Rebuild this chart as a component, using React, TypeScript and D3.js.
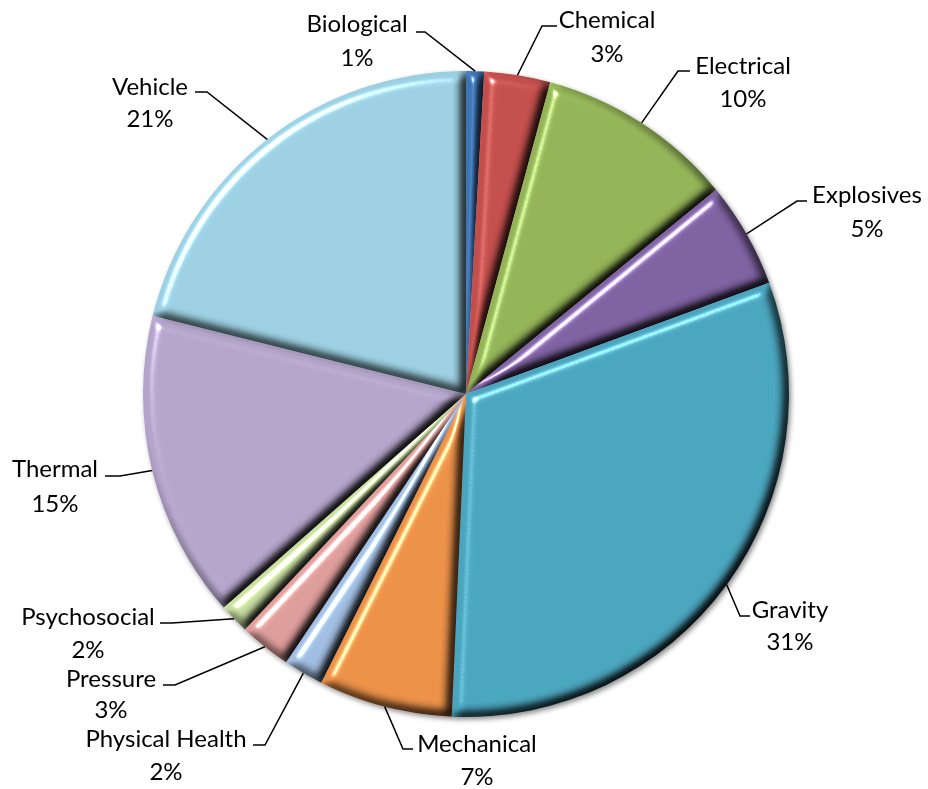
import React from "react";
import * as d3 from "d3";

const categories = [
  "Biological", "Chemical", "Electrical", "Explosives", "Gravity", "Mechanical",
  "Physical Health", "Pressure", "Psychosocial", "Thermal", "Vehicle",
];
const values = [0.9, 3.3, 9.9, 5.3, 31.3, 6.7, 2.0, 2.6, 1.5, 15.4, 21.1];
const percentLabels = ["1%", "3%", "10%", "5%", "31%", "7%", "2%", "3%", "2%", "15%", "21%"];
const colors = [
  "#3F73B2", "#C24F4C", "#93B357", "#7E61A0", "#4AA4BD", "#EA9048",
  "#A0BCE0", "#DC9C9A", "#C6DBA0", "#B4A4CA", "#9CCFE1",
];

// label layout: text centre x, first-line y, second-line y, leader start, knee
const labelLayout = [
  { cx: 357, y1: 22, y2: 56, sx: 416, sy: 32, kx: 425 },
  { cx: 607, y1: 18, y2: 52, sx: 557, sy: 26, kx: 542 },
  { cx: 743, y1: 64, y2: 97, sx: 690, sy: 71, kx: 678 },
  { cx: 867, y1: 193, y2: 227, sx: 807, sy: 201, kx: 797 },
  { cx: 790, y1: 608, y2: 640, sx: 750, sy: 616, kx: 740 },
  { cx: 477, y1: 742, y2: 775, sx: 413, sy: 749, kx: 403 },
  { cx: 166, y1: 737, y2: 770, sx: 253, sy: 745, kx: 265 },
  { cx: 111, y1: 677, y2: 708, sx: 163, sy: 685, kx: 175 },
  { cx: 88, y1: 615, y2: 648, sx: 160, sy: 623, kx: 172 },
  { cx: 55, y1: 467, y2: 502, sx: 105, sy: 476, kx: 120 },
  { cx: 150, y1: 85, y2: 117, sx: 195, sy: 92, kx: 207 },
];

const W = 928;
const H = 789;
const CX = 466;
const CY = 394;
const R = 323;

export default function App() {
  const pie = d3.pie<number>().sort(null).value((d) => d)(values);
  const arc = d3.arc<d3.PieArcDatum<number>>().innerRadius(0).outerRadius(R);

  return (
    <div style={{ position: "absolute", left: 0, top: 0 }}>
      <svg width={W} height={H} viewBox={`0 0 ${W} ${H}`} style={{ display: "block", background: "#fff" }}>
        <defs>
          <filter id="bevel" filterUnits="userSpaceOnUse" x={-500} y={-450} width={1000} height={900}
            colorInterpolationFilters="sRGB">
            <feGaussianBlur in="SourceAlpha" stdDeviation="5.5" result="b" />
            <feDiffuseLighting in="b" surfaceScale="8" diffuseConstant="1.221" lightingColor="#ffffff" result="d">
              <feDistantLight azimuth="225" elevation="55" />
            </feDiffuseLighting>
            <feComposite in="SourceGraphic" in2="d" operator="arithmetic" k1="1" k2="0" k3="0" k4="0" result="shaded" />
            <feSpecularLighting in="b" surfaceScale="8" specularConstant="0.75" specularExponent="45"
              lightingColor="#ffffff" result="s">
              <feDistantLight azimuth="225" elevation="40" />
            </feSpecularLighting>
            <feComposite in="s" in2="SourceAlpha" operator="in" result="sIn" />
            <feComposite in="shaded" in2="sIn" operator="arithmetic" k1="0" k2="1" k3="1" k4="0" />
          </filter>
          <filter id="shadow" filterUnits="userSpaceOnUse" x={-500} y={-450} width={1000} height={900}>
            <feDropShadow dx="2" dy="2.5" stdDeviation="2.5" floodColor="#000" floodOpacity="0.45" />
          </filter>
        </defs>
        <g transform={`translate(${CX},${CY})`}>
          <g filter="url(#shadow)">
            {pie.map((p, i) => (
              <path key={categories[i]} d={arc(p) || ""} fill={colors[i]} filter="url(#bevel)" />
            ))}
          </g>
        </g>
        <g fill="none" stroke="#000" strokeWidth={1.5}>
          {pie.map((p, i) => {
            const a = (p.startAngle + p.endAngle) / 2;
            const px = CX + R * Math.sin(a);
            const py = CY - R * Math.cos(a);
            const L = labelLayout[i];
            return (
              <polyline key={categories[i]} points={`${L.sx},${L.sy} ${L.kx},${L.sy} ${px},${py}`} />
            );
          })}
        </g>
        <g fontFamily="Lato, 'Open Sans', sans-serif" fontSize={24} fill="#000" textAnchor="middle">
          {categories.map((c, i) => {
            const L = labelLayout[i];
            return (
              <g key={c}>
                <text x={L.cx} y={L.y1} dominantBaseline="central">{c}</text>
                <text x={L.cx} y={L.y2} dominantBaseline="central">{percentLabels[i]}</text>
              </g>
            );
          })}
        </g>
      </svg>
    </div>
  );
}
